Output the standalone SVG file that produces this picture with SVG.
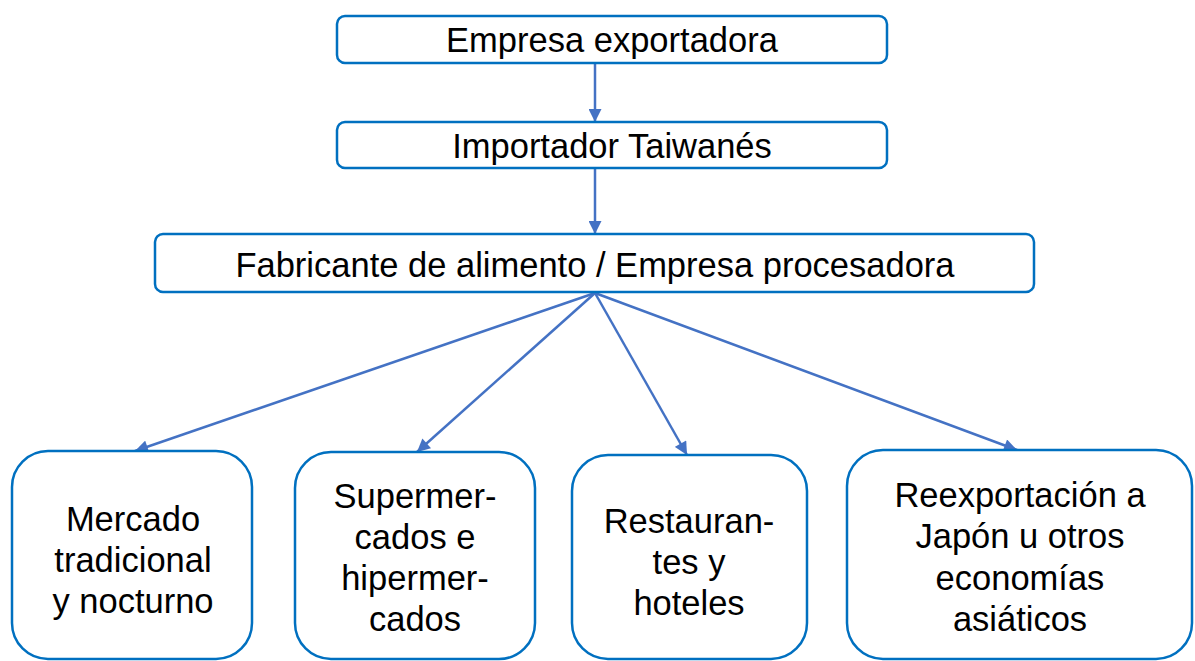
<svg xmlns="http://www.w3.org/2000/svg" width="1195" height="661" viewBox="0 0 1195 661">
<defs>
<marker id="ah" viewBox="0 0 10 10" markerWidth="15" markerHeight="13" refX="10" refY="5" orient="auto" markerUnits="userSpaceOnUse">
<path d="M0,0 L10,5 L0,10 z" fill="#4472C4"/>
</marker>
<style>
.box{fill:#fff;stroke:#0070C0;stroke-width:2.5}
.t{font-family:"Liberation Sans",Arial,sans-serif;font-size:34.5px;fill:#000;text-anchor:middle}
.c{stroke:#4472C4;stroke-width:2.5;fill:none;marker-end:url(#ah)}
</style>
</defs>
<rect width="1195" height="661" fill="#fff"/>
<g id="connectors">
<line class="c" x1="595" y1="64" x2="595" y2="122"/>
<line class="c" x1="595" y1="169" x2="595" y2="234"/>
<line class="c" x1="595" y1="293" x2="135" y2="451"/>
<line class="c" x1="595" y1="293" x2="417" y2="452"/>
<line class="c" x1="595" y1="293" x2="687" y2="455"/>
<line class="c" x1="595" y1="293" x2="1017" y2="450"/>
</g>
<g id="n1">
<rect class="box" x="337" y="16" width="550" height="47" rx="8"/>
<text class="t" x="612" y="52">Empresa exportadora</text>
</g>
<g id="n2">
<rect class="box" x="337" y="122" width="550" height="46" rx="8"/>
<text class="t" x="612" y="158">Importador Taiwanés</text>
</g>
<g id="n3">
<rect class="box" x="155" y="234" width="879" height="58" rx="8"/>
<text class="t" x="595" y="277">Fabricante de alimento / Empresa procesadora</text>
</g>
<g id="n4">
<rect class="box" x="12" y="451" width="240" height="208" rx="36"/>
<text class="t" x="133" y="531">Mercado</text>
<text class="t" x="133" y="572">tradicional</text>
<text class="t" x="133" y="613">y nocturno</text>
</g>
<g id="n5">
<rect class="box" x="295" y="452" width="240" height="207" rx="36"/>
<text class="t" x="415" y="508">Supermer-</text>
<text class="t" x="415" y="549">cados e</text>
<text class="t" x="415" y="590">hipermer-</text>
<text class="t" x="415" y="631">cados</text>
</g>
<g id="n6">
<rect class="box" x="572" y="455" width="235" height="204" rx="36"/>
<text class="t" x="689" y="533">Restauran-</text>
<text class="t" x="689" y="574">tes y</text>
<text class="t" x="689" y="615">hoteles</text>
</g>
<g id="n7">
<rect class="box" x="847" y="450" width="345" height="209" rx="36"/>
<text class="t" x="1020" y="507">Reexportación a</text>
<text class="t" x="1020" y="548">Japón u otros</text>
<text class="t" x="1020" y="590">economías</text>
<text class="t" x="1020" y="631">asiáticos</text>
</g>
</svg>
